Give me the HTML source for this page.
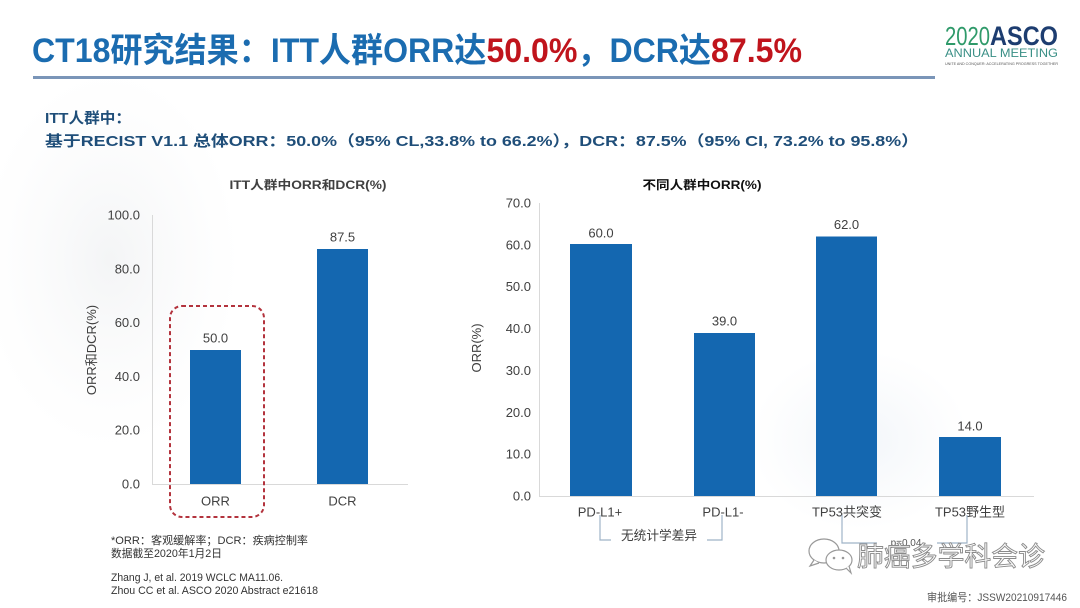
<!DOCTYPE html>
<html><head><meta charset="utf-8"><style>
html,body{margin:0;padding:0;background:#fff;}
svg{display:block;}
text{font-family:"Liberation Sans","Noto Sans CJK SC",sans-serif;}
</style></head><body>
<svg width="1080" height="608" viewBox="0 0 1080 608" xmlns="http://www.w3.org/2000/svg">
<defs>
<radialGradient id="g1" cx="0.5" cy="0.5" r="0.5"><stop offset="0" stop-color="#eceef0" stop-opacity="0.6"/><stop offset="1" stop-color="#f4f5f6" stop-opacity="0"/></radialGradient>
<radialGradient id="g2" cx="0.5" cy="0.5" r="0.5"><stop offset="0" stop-color="#eaf0f6" stop-opacity="0.6"/><stop offset="1" stop-color="#eef2f7" stop-opacity="0"/></radialGradient>
</defs>
<rect width="1080" height="608" fill="#fff"/>
<ellipse cx="110" cy="260" rx="130" ry="190" fill="url(#g1)"/>
<ellipse cx="860" cy="440" rx="110" ry="90" fill="url(#g2)"/>

<!-- Title -->
<text x="32" y="62" font-size="34" font-weight="bold" fill="#1b6cb0" textLength="770" lengthAdjust="spacingAndGlyphs">CT18研究结果：ITT人群ORR达<tspan fill="#c0141c">50.0%</tspan>，DCR达<tspan fill="#c0141c">87.5%</tspan></text>
<rect x="33" y="76" width="902" height="3" fill="#7a95b8"/>

<!-- ASCO logo -->
<text x="945" y="45" font-size="26" fill="#2f9a6a" textLength="45" lengthAdjust="spacingAndGlyphs">2020</text>
<text x="990" y="45" font-size="27" font-weight="bold" fill="#1d3d70" textLength="68" lengthAdjust="spacingAndGlyphs">ASCO</text>
<text x="945" y="57" font-size="12" fill="#3a8f86" textLength="113" lengthAdjust="spacingAndGlyphs">ANNUAL MEETING</text>
<text x="945" y="65" font-size="4" fill="#555" textLength="113" lengthAdjust="spacingAndGlyphs">UNITE AND CONQUER: ACCELERATING PROGRESS TOGETHER</text>

<!-- Subtitle -->
<text x="45" y="123" font-size="15" font-weight="bold" fill="#1f4e79" textLength="86" lengthAdjust="spacingAndGlyphs">ITT人群中：</text>
<text x="45" y="146" font-size="15" font-weight="bold" fill="#1f4e79" textLength="874" lengthAdjust="spacingAndGlyphs">基于RECIST  V1.1 总体ORR：50.0%（95%  CL,33.8% to 66.2%），DCR：87.5%（95% CI, 73.2% to 95.8%）</text>

<!-- Left chart -->
<text x="308" y="189" font-size="12" font-weight="bold" fill="#404040" text-anchor="middle" textLength="157" lengthAdjust="spacingAndGlyphs">ITT人群中ORR和DCR(%)</text>
<g font-size="13" fill="#404040" text-anchor="end">
<text x="140" y="219.5">100.0</text>
<text x="140" y="273.3">80.0</text>
<text x="140" y="327.1">60.0</text>
<text x="140" y="380.9">40.0</text>
<text x="140" y="434.7">20.0</text>
<text x="140" y="488.5">0.0</text>
</g>
<line x1="152.5" y1="215" x2="152.5" y2="484" stroke="#d9d9d9" stroke-width="1"/>
<line x1="152" y1="484.5" x2="408" y2="484.5" stroke="#d9d9d9" stroke-width="1"/>
<rect x="190" y="350" width="51" height="134" fill="#1467b0"/>
<rect x="317" y="249" width="51" height="235" fill="#1467b0"/>
<g font-size="13" fill="#404040" text-anchor="middle">
<text x="215.5" y="342.5">50.0</text>
<text x="342.5" y="241.5">87.5</text>
<text x="215.5" y="505.5">ORR</text>
<text x="342.5" y="505.5">DCR</text>
</g>
<text transform="translate(96,350) rotate(-90)" font-size="13" fill="#404040" text-anchor="middle">ORR和DCR(%)</text>
<rect x="170" y="306" width="94" height="211" rx="12" ry="12" fill="none" stroke="#b3333d" stroke-width="2" stroke-dasharray="4,3"/>

<!-- Right chart -->
<text x="702" y="189" font-size="12" font-weight="bold" fill="#111" text-anchor="middle" textLength="119" lengthAdjust="spacingAndGlyphs">不同人群中ORR(%)</text>
<g font-size="13" fill="#404040" text-anchor="end">
<text x="531" y="207.5">70.0</text>
<text x="531" y="249.4">60.0</text>
<text x="531" y="291.2">50.0</text>
<text x="531" y="333.1">40.0</text>
<text x="531" y="375">30.0</text>
<text x="531" y="416.8">20.0</text>
<text x="531" y="458.7">10.0</text>
<text x="531" y="500.5">0.0</text>
</g>
<line x1="539.5" y1="203" x2="539.5" y2="496" stroke="#d9d9d9" stroke-width="1"/>
<line x1="539" y1="496.5" x2="1034" y2="496.5" stroke="#d9d9d9" stroke-width="1"/>
<rect x="570" y="244" width="62" height="252" fill="#1467b0"/>
<rect x="694" y="333" width="61" height="163" fill="#1467b0"/>
<rect x="816" y="236.5" width="61" height="259.5" fill="#1467b0"/>
<rect x="939" y="437" width="62" height="59" fill="#1467b0"/>
<g font-size="13" fill="#404040" text-anchor="middle">
<text x="601" y="237.5">60.0</text>
<text x="724.5" y="325.5">39.0</text>
<text x="846.5" y="229">62.0</text>
<text x="970" y="430.5">14.0</text>
<text x="600" y="516.5">PD-L1+</text>
<text x="723" y="516.5">PD-L1-</text>
<text x="847" y="516.5">TP53共突变</text>
<text x="970" y="516.5">TP53野生型</text>
</g>
<text transform="translate(481,348) rotate(-90)" font-size="13" fill="#404040" text-anchor="middle">ORR(%)</text>

<!-- brackets -->
<g fill="none" stroke="#9fb3c8" stroke-width="1.2">
<polyline points="600,515 600,540 611,540"/>
<polyline points="707,540 722,540 722,515"/>
<polyline points="842,515 842,543 877,543"/>
<polyline points="937,543 967,543 967,515"/>
</g>
<text x="659" y="540" font-size="13" fill="#404040" text-anchor="middle" textLength="76" lengthAdjust="spacingAndGlyphs">无统计学差异</text>
<text x="906" y="546" font-size="10" fill="#555" text-anchor="middle">p=0.04</text>

<!-- watermark -->
<g fill="#fff" stroke="#999" stroke-width="1.2">
<ellipse cx="824" cy="551" rx="15" ry="12"/>
<path d="M814 560 l-4 6 l9 -3" />
<ellipse cx="839" cy="560" rx="13" ry="10"/>
<path d="M846 568 l5 5 l-2 -7"/>
</g>
<g fill="#999"><circle cx="834" cy="558" r="1.3"/><circle cx="843" cy="558" r="1.3"/></g>
<text x="857" y="566" font-size="27" fill="#fcfcfc" stroke="#8a8a8a" stroke-width="0.9" textLength="188" lengthAdjust="spacingAndGlyphs">肺癌多学科会诊</text>

<!-- footnotes -->
<g font-size="11" fill="#333">
<text x="111" y="544" textLength="197" lengthAdjust="spacingAndGlyphs">*ORR：客观缓解率；DCR：疾病控制率</text>
<text x="111" y="557" textLength="111" lengthAdjust="spacingAndGlyphs">数据截至2020年1月2日</text>
<text x="111" y="581" textLength="172" lengthAdjust="spacingAndGlyphs">Zhang J, et al. 2019 WCLC MA11.06.</text>
<text x="111" y="594" textLength="207" lengthAdjust="spacingAndGlyphs">Zhou CC et al. ASCO  2020 Abstract e21618</text>
</g>
<text x="927" y="601" font-size="11" fill="#555" textLength="140" lengthAdjust="spacingAndGlyphs">审批编号：JSSW20210917446</text>
</svg>
</body></html>
